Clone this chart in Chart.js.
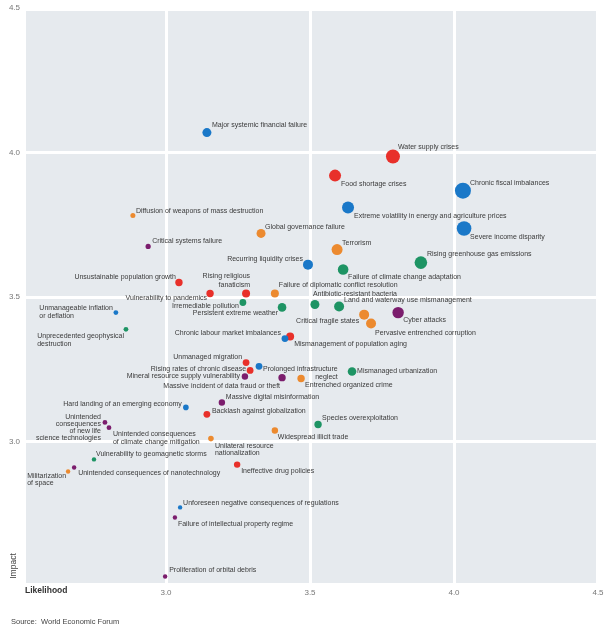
<!DOCTYPE html>
<html><head><meta charset="utf-8">
<script src="https://cdn.jsdelivr.net/npm/chart.js@4/dist/chart.umd.min.js"></script>
<style>
html,body{margin:0;padding:0;background:#fff;}
#wrap{position:relative;width:612px;height:631px;}
#c{position:absolute;left:0;top:0;}
#src{position:absolute;left:11px;top:617px;font:7.5px "Liberation Sans",Arial,sans-serif;color:#444;white-space:nowrap;}
</style></head><body>
<div id="wrap"><canvas id="c" width="612" height="631"></canvas><div id="src">Source:&nbsp; World Economic Forum</div></div>
<script>
// ---- data ----
const risks = [
 'Major systemic financial failure','Water supply crises','Food shortage crises','Chronic fiscal imbalances',
 'Extreme volatility in energy and agriculture prices','Severe income disparity','Diffusion of weapons of mass destruction',
 'Global governance failure','Critical systems failure','Terrorism','Recurring liquidity crises',
 'Failure of climate change adaptation','Rising greenhouse gas emissions','Unsustainable population growth',
 'Vulnerability to pandemics','Rising religious\nfanaticism','Failure of diplomatic conflict resolution',
 'Irremediable pollution','Persistent extreme weather','Antibiotic-resistant bacteria',
 'Land and waterway use mismanagement','Critical fragile states','Pervasive entrenched corruption','Cyber attacks',
 'Chronic labour market imbalances','Mismanagement of population aging','Unmanageable inflation\nor deflation',
 'Unprecedented geophysical\ndestruction','Unmanaged migration','Rising rates of chronic disease',
 'Prolonged infrastructure\nneglect','Mineral resource supply vulnerability','Massive incident of data fraud or theft',
 'Entrenched organized crime','Mismanaged urbanization','Massive digital misinformation',
 'Hard landing of an emerging economy','Backlash against globalization','Species overexploitation',
 'Widespread illicit trade','Unintended\nconsequences\nof new life\nscience technologies',
 'Unintended consequences\nof climate change mitigation','Unilateral resource\nnationalization',
 'Ineffective drug policies','Vulnerability to geomagnetic storms','Unintended consequences of nanotechnology',
 'Militarization\nof space','Unforeseen negative consequences of regulations',
 'Failure of intellectual property regime','Proliferation of orbital debris'
];
const likelihood = [3.142,3.788,3.587,4.031,3.632,4.035,2.885,3.330,2.938,3.594,3.493,3.615,3.885,3.045,
 3.153,3.278,3.378,3.267,3.403,3.517,3.601,3.688,3.712,3.806,3.413,3.431,2.826,2.861,3.278,3.292,3.323,
 3.274,3.403,3.469,3.646,3.194,3.069,3.142,3.528,3.378,2.788,2.802,3.156,3.247,2.750,2.681,2.660,3.049,
 3.031,2.997];
const impact = [4.069,3.986,3.920,3.868,3.810,3.737,3.782,3.720,3.675,3.664,3.612,3.595,3.619,3.550,
 3.512,3.512,3.512,3.481,3.464,3.474,3.467,3.439,3.408,3.446,3.356,3.363,3.446,3.388,3.273,3.246,3.260,
 3.225,3.221,3.218,3.242,3.135,3.118,3.094,3.059,3.038,3.066,3.048,3.010,2.920,2.938,2.910,2.896,2.772,
 2.737,2.533];
const weight = [4.5,7,6,8,6,7.3,2.5,4.5,2.6,5.5,5,5.3,6.3,3.7,3.7,4,4,3.4,4.3,4.5,5,5,5,5.7,3.4,4,2.4,2.4,
 3.4,3.4,3.4,3.2,3.7,3.7,4.3,3.2,2.8,3.4,3.7,3.2,2.4,2.4,2.8,3.2,2.2,2.2,2.2,2.2,2.2,2.2];
const category = ['Economic','Societal','Societal','Economic','Economic','Economic','Geopolitical','Geopolitical',
 'Technological','Geopolitical','Economic','Environmental','Environmental','Societal','Societal','Societal',
 'Geopolitical','Environmental','Environmental','Environmental','Environmental','Geopolitical','Geopolitical',
 'Technological','Economic','Societal','Economic','Environmental','Societal','Societal','Economic',
 'Technological','Technological','Geopolitical','Environmental','Technological','Economic','Societal',
 'Environmental','Geopolitical','Technological','Technological','Geopolitical','Societal','Environmental',
 'Technological','Geopolitical','Economic','Technological','Technological'];
const categories = ['Economic','Environmental','Geopolitical','Societal','Technological'];
const likelihoodTicks = [3.0,3.5,4.0,4.5];
const impactTicks = [3.0,3.5,4.0,4.5];

// ---- styling / layout ----
const colors = {Economic:'#1a78c8',Environmental:'#1e9464',Geopolitical:'#ec8a2f',Societal:'#e8302a',Technological:'#7b1d6d'};
// [side, dx, dy, innerAlign, lineHeight]
const placement = [
 ['R',5,-7],['R',5,-9],['R',6,8],['R',7,-8],['R',6,9],['R',6,9],['R',3,-4],['R',4,-6],['R',4,-5],['R',5,-7],
 ['L',-5,-6],['R',5,8],['R',6,-9],['L',-3,-5],['L',-3,5],['L',4,-17,'right',9],['R',4,-8],['L',-4,4],['L',-4,6],
 ['R',-2,-10],['R',5,-6],['L',-5,6],['R',4,9],['R',5,7],['L',-4,-6],['R',4,7],['L',-3,-5,'left',8.5],
 ['L',-2,7,'left',8],['L',-4,-6],['L',-4,-1],['R',4,3,'right',8],['L',-5,0],['L',-2,8],['R',4,7],['R',5,0],
 ['R',4,-5],['L',-4,-3],['R',5,-3],['R',4,-6],['R',3,7],['L',-4,-5,'right',7],['R',4,6,'left',8],
 ['R',4,7,'left',7.5],['R',4,6],['R',2,-5],['R',4,6],['L',-2,5,'left',7],['R',3,-4],['R',3,7],['R',4,-6]
];
const FONT = '"Liberation Sans", Arial, sans-serif';

const datasets = categories.map(cat => ({
  label: cat,
  backgroundColor: colors[cat],
  borderColor: colors[cat],
  borderWidth: 0,
  data: risks.map((n,i)=>({x:likelihood[i],y:impact[i],r:weight[i],idx:i})).filter(p=>category[p.idx]===cat)
}));

const bgPlugin = {
  id:'bg',
  beforeDraw(chart){
    const {ctx, chartArea:a} = chart;
    ctx.save(); ctx.fillStyle='#e6eaee';
    ctx.fillRect(a.left+4, a.top+3, a.right-a.left-6, a.bottom-a.top-6);
    ctx.restore();
  }
};
const labelPlugin = {
  id:'labels',
  afterDatasetsDraw(chart){
    const ctx = chart.ctx;
    ctx.save();
    ctx.font = '7px ' + FONT;
    ctx.fillStyle = '#3a3a3a';
    ctx.textBaseline = 'middle';
    chart.data.datasets.forEach((ds,di)=>{
      const meta = chart.getDatasetMeta(di);
      ds.data.forEach((p,j)=>{
        const el = meta.data[j];
        const i = p.idx;
        const lines = risks[i].split('\n');
        const [side,dx,dy,inner,lh0] = placement[i];
        const lh = lh0 || 8.5;
        const w = Math.max(...lines.map(l=>ctx.measureText(l).width));
        const left = side==='R' ? el.x+dx : el.x+dx-w;
        lines.forEach((l,k)=>{
          const y = el.y+dy+k*lh;
          if(inner==='right'){ctx.textAlign='right';ctx.fillText(l,left+w,y);}
          else {ctx.textAlign='left';ctx.fillText(l,left,y);}
        });
      });
    });
    ctx.restore();
  },
  afterDraw(chart){
    const ctx = chart.ctx;
    ctx.save();
    ctx.fillStyle='#333';
    ctx.textBaseline='middle';
    ctx.textAlign='left';
    ctx.font='bold 8.5px '+FONT;
    ctx.fillText('Likelihood',25,591);
    ctx.translate(14,566);
    ctx.rotate(-Math.PI/2);
    ctx.textAlign='center';
    ctx.font='8.5px '+FONT;
    ctx.fillStyle='#444';
    ctx.fillText('Impact',0,0);
    ctx.restore();
  }
};

const tickFont = {family: FONT, size: 8};
new Chart(document.getElementById('c'), {
  type:'bubble',
  data:{datasets},
  options:{
    responsive:false, animation:false, devicePixelRatio:1,
    layout:{padding:{top:8,right:14,left:0,bottom:0}},
    plugins:{legend:{display:false},tooltip:{enabled:false}},
    scales:{
      x:{type:'linear',min:2.5,max:4.5,
        afterBuildTicks(s){s.ticks = likelihoodTicks.map(v=>({value:v}));},
        afterFit(s){s.height=45;},
        ticks:{callback:v=>Number(v).toFixed(1),font:tickFont,color:'#777',padding:2,maxRotation:0,autoSkip:false},
        grid:{color:'#ffffff',lineWidth:3,drawTicks:false},
        border:{display:false}},
      y:{type:'linear',min:2.5,max:4.5,
        afterBuildTicks(s){s.ticks = impactTicks.map(v=>({value:v}));},
        afterFit(s){s.width=22;},
        ticks:{callback:v=>Number(v).toFixed(1),font:tickFont,color:'#777',padding:2,autoSkip:false},
        grid:{color:'#ffffff',lineWidth:3,drawTicks:false},
        border:{display:false}}
    }
  },
  plugins:[bgPlugin,labelPlugin]
});
</script>
</body></html>
